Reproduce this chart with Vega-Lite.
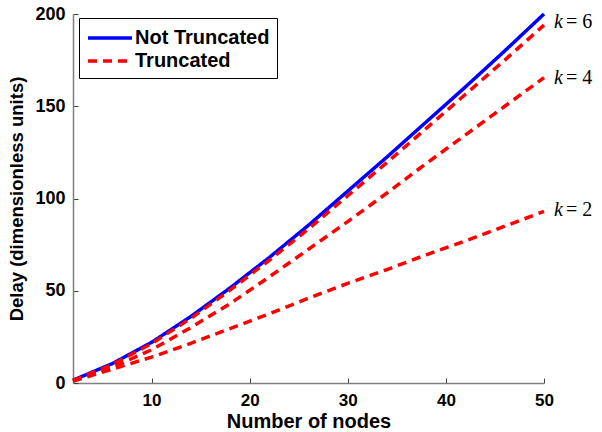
{
  "$schema": "https://vega.github.io/schema/vega-lite/v6.json",
  "width": 471,
  "height": 369,
  "autosize": "none",
  "padding": {"left": 73, "top": 14, "right": 58, "bottom": 49},
  "background": "white",
  "config": {"view": {"stroke": null}, "font": "Liberation Sans"},
  "datasets": {
    "curves": [
      {"n": 2, "d": 1.5, "s": "Not Truncated", "g": "nt"},
      {"n": 6, "d": 10.5, "s": "Not Truncated", "g": "nt"},
      {"n": 10, "d": 22, "s": "Not Truncated", "g": "nt"},
      {"n": 14, "d": 36, "s": "Not Truncated", "g": "nt"},
      {"n": 18, "d": 51.5, "s": "Not Truncated", "g": "nt"},
      {"n": 22, "d": 68, "s": "Not Truncated", "g": "nt"},
      {"n": 26, "d": 85.5, "s": "Not Truncated", "g": "nt"},
      {"n": 30, "d": 104, "s": "Not Truncated", "g": "nt"},
      {"n": 34, "d": 122.5, "s": "Not Truncated", "g": "nt"},
      {"n": 38, "d": 141.5, "s": "Not Truncated", "g": "nt"},
      {"n": 42, "d": 160.5, "s": "Not Truncated", "g": "nt"},
      {"n": 46, "d": 180, "s": "Not Truncated", "g": "nt"},
      {"n": 50, "d": 200, "s": "Not Truncated", "g": "nt"},
      {"n": 2, "d": 1.3, "s": "Truncated", "g": "k6"},
      {"n": 6, "d": 10, "s": "Truncated", "g": "k6"},
      {"n": 10, "d": 21.3, "s": "Truncated", "g": "k6"},
      {"n": 14, "d": 35, "s": "Truncated", "g": "k6"},
      {"n": 18, "d": 50.3, "s": "Truncated", "g": "k6"},
      {"n": 22, "d": 66.5, "s": "Truncated", "g": "k6"},
      {"n": 26, "d": 83.5, "s": "Truncated", "g": "k6"},
      {"n": 30, "d": 101.5, "s": "Truncated", "g": "k6"},
      {"n": 34, "d": 119.5, "s": "Truncated", "g": "k6"},
      {"n": 38, "d": 138, "s": "Truncated", "g": "k6"},
      {"n": 42, "d": 156.5, "s": "Truncated", "g": "k6"},
      {"n": 46, "d": 175, "s": "Truncated", "g": "k6"},
      {"n": 50, "d": 194, "s": "Truncated", "g": "k6"},
      {"n": 2, "d": 1.2, "s": "Truncated", "g": "k4"},
      {"n": 6, "d": 8.5, "s": "Truncated", "g": "k4"},
      {"n": 10, "d": 18, "s": "Truncated", "g": "k4"},
      {"n": 14, "d": 30, "s": "Truncated", "g": "k4"},
      {"n": 18, "d": 43, "s": "Truncated", "g": "k4"},
      {"n": 22, "d": 57.5, "s": "Truncated", "g": "k4"},
      {"n": 26, "d": 72.5, "s": "Truncated", "g": "k4"},
      {"n": 30, "d": 87.5, "s": "Truncated", "g": "k4"},
      {"n": 34, "d": 103, "s": "Truncated", "g": "k4"},
      {"n": 38, "d": 119, "s": "Truncated", "g": "k4"},
      {"n": 42, "d": 134.5, "s": "Truncated", "g": "k4"},
      {"n": 46, "d": 150, "s": "Truncated", "g": "k4"},
      {"n": 50, "d": 165.5, "s": "Truncated", "g": "k4"},
      {"n": 2, "d": 1, "s": "Truncated", "g": "k2"},
      {"n": 6, "d": 7.5, "s": "Truncated", "g": "k2"},
      {"n": 10, "d": 14, "s": "Truncated", "g": "k2"},
      {"n": 14, "d": 21.5, "s": "Truncated", "g": "k2"},
      {"n": 18, "d": 29.5, "s": "Truncated", "g": "k2"},
      {"n": 22, "d": 37.5, "s": "Truncated", "g": "k2"},
      {"n": 26, "d": 46, "s": "Truncated", "g": "k2"},
      {"n": 30, "d": 54, "s": "Truncated", "g": "k2"},
      {"n": 34, "d": 61.5, "s": "Truncated", "g": "k2"},
      {"n": 38, "d": 69.5, "s": "Truncated", "g": "k2"},
      {"n": 42, "d": 77, "s": "Truncated", "g": "k2"},
      {"n": 46, "d": 85, "s": "Truncated", "g": "k2"},
      {"n": 50, "d": 93, "s": "Truncated", "g": "k2"}
    ],
    "labels": [
      {"n": 50, "d": 195.5, "lbl": "= 6"},
      {"n": 50, "d": 165.5, "lbl": "= 4"},
      {"n": 50, "d": 94, "lbl": "= 2"}
    ]
  },
  "layer": [
    {
      "data": {"name": "curves"},
      "mark": {"type": "line", "strokeWidth": 3.5, "strokeCap": "butt", "clip": false},
      "encoding": {
        "x": {
          "field": "n", "type": "quantitative",
          "scale": {"domain": [2, 50], "nice": false, "zero": false},
          "axis": {
            "title": "Number of nodes", "values": [10, 20, 30, 40, 50], "grid": false,
            "domainColor": "#808080", "domainWidth": 1.5, "tickColor": "#404040", "tickSize": -5, "tickWidth": 1,
            "labelFont": "Liberation Sans", "labelFontSize": 17, "labelFontWeight": "bold", "labelColor": "black",
            "labelPadding": 14, "labelFlush": false,
            "titleFont": "Liberation Sans", "titleFontSize": 20, "titleFontWeight": "bold", "titleColor": "black",
            "titleBaseline": "alphabetic", "titleY": 44
          }
        },
        "y": {
          "field": "d", "type": "quantitative",
          "scale": {"domain": [0, 200], "nice": false},
          "axis": {
            "title": "Delay (dimensionless units)", "values": [0, 50, 100, 150, 200], "grid": false,
            "domainColor": "#808080", "domainWidth": 1.5, "tickColor": "#404040", "tickSize": -5, "tickWidth": 1,
            "labelFont": "Liberation Sans", "labelFontSize": 18, "labelFontWeight": "bold", "labelColor": "black",
            "labelPadding": 13, "labelFlush": false,
            "titleFont": "Liberation Sans", "titleFontSize": 18.5, "titleFontWeight": "bold", "titleColor": "black", "titlePadding": 8
          }
        },
        "color": {
          "field": "s", "type": "nominal",
          "scale": {"domain": ["Not Truncated", "Truncated"], "range": ["#0000ff", "#ff0000"]},
          "legend": {
            "title": null, "orient": "none", "legendX": 6, "legendY": 4,
            "strokeColor": "black", "fillColor": "white", "padding": 7,
            "symbolType": "M-1,0H3", "symbolSize": 484, "symbolStrokeWidth": 3.5,
            "labelFont": "Liberation Sans", "labelFontSize": 20, "labelFontWeight": "bold", "labelColor": "black",
            "labelOffset": 23, "rowPadding": 0
          }
        },
        "strokeDash": {
          "field": "s", "type": "nominal",
          "scale": {"domain": ["Not Truncated", "Truncated"], "range": [[1, 0], [9, 6]]},
          "legend": {
            "title": null, "orient": "none", "legendX": 6, "legendY": 4,
            "strokeColor": "black", "fillColor": "white", "padding": 7,
            "symbolType": "M-1,0H3", "symbolSize": 484, "symbolStrokeWidth": 3.5,
            "labelFont": "Liberation Sans", "labelFontSize": 20, "labelFontWeight": "bold", "labelColor": "black",
            "labelOffset": 23, "rowPadding": 0
          }
        },
        "detail": {"field": "g", "type": "nominal"}
      }
    },
    {
      "data": {"name": "labels"},
      "mark": {"type": "text", "text": "k", "font": "Liberation Serif", "fontStyle": "italic", "fontSize": 20, "align": "left", "baseline": "middle", "dx": 10, "color": "black"},
      "encoding": {
        "x": {"field": "n", "type": "quantitative"},
        "y": {"field": "d", "type": "quantitative"}
      }
    },
    {
      "data": {"name": "labels"},
      "mark": {"type": "text", "font": "Liberation Serif", "fontSize": 20, "align": "left", "baseline": "middle", "dx": 22, "color": "black"},
      "encoding": {
        "x": {"field": "n", "type": "quantitative"},
        "y": {"field": "d", "type": "quantitative"},
        "text": {"field": "lbl"}
      }
    }
  ]
}
